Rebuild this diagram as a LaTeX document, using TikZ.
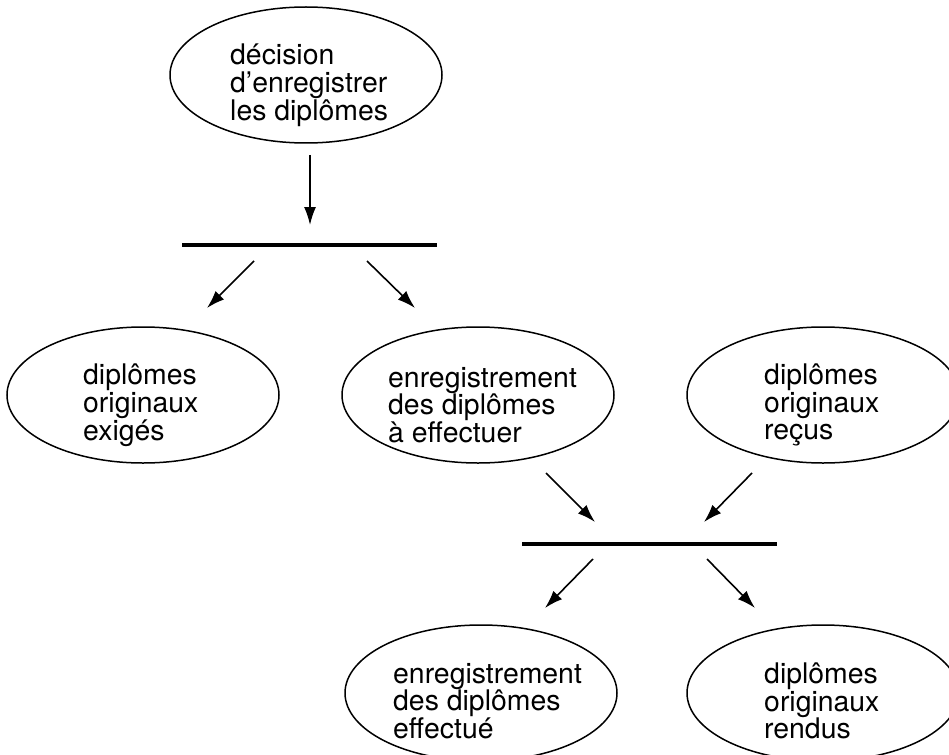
\documentclass[tikz,border=0pt]{standalone}
\usepackage{fontspec}
\setmainfont{TeX Gyre Heros}
\usetikzlibrary{shapes.geometric,arrows.meta}

\begin{document}
\begin{tikzpicture}
		[
			x=1pt, y=-1pt,
			event/.style={draw, ellipse, line width=1.5pt, minimum width=272pt, minimum height=136pt, inner sep=0pt},
			words/.style={draw=none, fill=none, align=left, anchor=west, inner sep=0pt, font=\fontsize{28.4}{27.8}\selectfont},
			bar/.style={line width=4pt},
			arrow/.style={-{Latex[length=18pt,width=12pt]}, line width=1.6pt}
		]
		\useasboundingbox (0,0) rectangle (949,754);

		% conditions
		\node[event]	(dec) at ( 306,  75 ) {};
		\node[event]	(exi) at ( 143, 395 ) {};
		\node[event]	(aef) at ( 478, 395 ) {};
		\node[event]	(rec) at ( 823, 395 ) {};
		\node[event]	(eff) at ( 481, 693 ) {};
		\node[event]	(ren) at ( 823, 693 ) {};

		% condition texts
		\node[words] (tdec) at ( 230,  85 ) {décision\\d’enregistrer\\les diplômes};
		\node[words] (texi) at (  83, 405 ) {diplômes\\originaux\\exigés};
		\node[words] (taef) at ( 388, 405 ) {enregistrement\\des diplômes\\à effectuer};
		\node[words] (trec) at ( 764, 405 ) {diplômes\\originaux\\reçus};
		\node[words] (teff) at ( 393, 701 ) {enregistrement\\des diplômes\\effectué};
		\node[words] (tren) at ( 764, 701 ) {diplômes\\originaux\\rendus};

		% transitions
		\coordinate (t1w) at ( 182, 245 );
		\coordinate (t1e) at ( 437, 245 );
		\coordinate (t2w) at ( 522, 544 );
		\coordinate (t2e) at ( 777, 544 );
		\draw[bar] (t1w) -- (t1e);
		\draw[bar] (t2w) -- (t2e);

		% arrow ends
		\coordinate (d1) at ( 310, 155 );	\coordinate (d2) at ( 310, 225 );
		\coordinate (e1) at ( 254, 261 );	\coordinate (e2) at ( 207, 308 );
		\coordinate (f1) at ( 367, 261 );	\coordinate (f2) at ( 415, 308 );
		\coordinate (g1) at ( 546, 473 );	\coordinate (g2) at ( 595, 522 );
		\coordinate (h1) at ( 752, 473 );	\coordinate (h2) at ( 704, 522 );
		\coordinate (k1) at ( 593, 559 );	\coordinate (k2) at ( 545, 608 );
		\coordinate (m1) at ( 707, 559 );	\coordinate (m2) at ( 755, 608 );

		% arcs
		\foreach \from/\to in
		{
			d1/d2, e1/e2, f1/f2,
			g1/g2, h1/h2,
			k1/k2, m1/m2}
		\draw[arrow] (\from) -- (\to);

	\end{tikzpicture}
\end{document}
